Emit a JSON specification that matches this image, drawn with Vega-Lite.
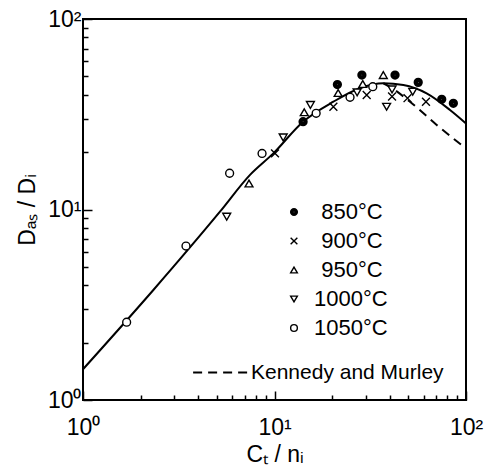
{
  "$schema": "https://vega.github.io/schema/vega-lite/v6.json",
  "width": 383,
  "height": 381,
  "autosize": {"type": "none"},
  "padding": {"left": 83, "top": 19, "right": 22, "bottom": 73},
  "background": "white",
  "config": {
    "view": {"stroke": "black", "strokeWidth": 2},
    "font": "Liberation Sans",
    "axis": {"labelColor": "black", "titleColor": "black", "tickColor": "black"}
  },
  "datasets": {
    "solid": [
      {"ct": 1, "d": 1.45}, {"ct": 2.33, "d": 3.78}, {"ct": 5.19, "d": 9.74},
      {"ct": 7.45, "d": 15.2}, {"ct": 9.86, "d": 19.7}, {"ct": 14.1, "d": 28.9},
      {"ct": 20.3, "d": 36.8}, {"ct": 27.9, "d": 43.3}, {"ct": 37.0, "d": 46.0},
      {"ct": 47.1, "d": 45.0}, {"ct": 62.3, "d": 40.7}, {"ct": 82.5, "d": 33.3},
      {"ct": 100, "d": 28.3}
    ],
    "dashed": [
      {"ct": 37.0, "d": 46.0, "curve": "Kennedy and Murley"},
      {"ct": 40.1, "d": 44.0, "curve": "Kennedy and Murley"},
      {"ct": 51.0, "d": 36.8, "curve": "Kennedy and Murley"},
      {"ct": 70.3, "d": 27.8, "curve": "Kennedy and Murley"},
      {"ct": 100, "d": 20.9, "curve": "Kennedy and Murley"}
    ],
    "points": [
      {"ct": 14.1, "d": 28.9, "T": "850°C"},
      {"ct": 21.3, "d": 45.3, "T": "850°C"},
      {"ct": 28.6, "d": 50.8, "T": "850°C"},
      {"ct": 42.6, "d": 50.8, "T": "850°C"},
      {"ct": 56.3, "d": 46.5, "T": "850°C"},
      {"ct": 74.7, "d": 37.9, "T": "850°C"},
      {"ct": 85.9, "d": 36.1, "T": "850°C"},
      {"ct": 10.06, "d": 19.7, "T": "900°C"},
      {"ct": 20.3, "d": 34.6, "T": "900°C"},
      {"ct": 30.3, "d": 39.9, "T": "900°C"},
      {"ct": 41.1, "d": 39.2, "T": "900°C"},
      {"ct": 49.5, "d": 38.4, "T": "900°C"},
      {"ct": 61.8, "d": 36.8, "T": "900°C"},
      {"ct": 7.36, "d": 13.7, "T": "950°C"},
      {"ct": 14.3, "d": 32.4, "T": "950°C"},
      {"ct": 21.5, "d": 40.9, "T": "950°C"},
      {"ct": 28.9, "d": 45.6, "T": "950°C"},
      {"ct": 37.0, "d": 50.8, "T": "950°C"},
      {"ct": 5.63, "d": 9.17, "T": "1000°C"},
      {"ct": 11.1, "d": 23.9, "T": "1000°C"},
      {"ct": 15.4, "d": 35.4, "T": "1000°C"},
      {"ct": 27.0, "d": 41.2, "T": "1000°C"},
      {"ct": 38.5, "d": 34.6, "T": "1000°C"},
      {"ct": 41.1, "d": 42.7, "T": "1000°C"},
      {"ct": 52.7, "d": 41.5, "T": "1000°C"},
      {"ct": 1.69, "d": 2.56, "T": "1050°C"},
      {"ct": 3.45, "d": 6.43, "T": "1050°C"},
      {"ct": 5.83, "d": 15.5, "T": "1050°C"},
      {"ct": 8.61, "d": 19.7, "T": "1050°C"},
      {"ct": 16.5, "d": 32.0, "T": "1050°C"},
      {"ct": 24.8, "d": 38.8, "T": "1050°C"},
      {"ct": 32.6, "d": 44.1, "T": "1050°C"}
    ]
  },
  "encoding": {
    "x": {
      "field": "ct", "type": "quantitative",
      "scale": {"type": "log", "domain": [1, 100]},
      "axis": {
        "values": [1,2,3,4,5,6,7,8,9,10,20,30,40,50,60,70,80,90,100],
        "labelExpr": "datum.value == 1 ? '10⁰' : datum.value == 10 ? '10¹' : datum.value == 100 ? '10²' : ''",
        "domain": false, "grid": false,
        "tickWidth": 1.5,
        "tickSize": {"condition": {"test": "datum.value == 1 || datum.value == 10 || datum.value == 100", "value": -9}, "value": -5},
        "labelFontSize": 23, "labelPadding": 25,
        "labelFlush": false, "labelOverlap": false, "labelBound": false,
        "title": "Cₜ / nᵢ", "titleFontSize": 23, "titleFontWeight": "normal", "titlePadding": 0
      }
    },
    "y": {
      "field": "d", "type": "quantitative",
      "scale": {"type": "log", "domain": [1, 100]},
      "axis": {
        "values": [1,2,3,4,5,6,7,8,9,10,20,30,40,50,60,70,80,90,100],
        "labelExpr": "datum.value == 1 ? '10⁰' : datum.value == 10 ? '10¹' : datum.value == 100 ? '10²' : ''",
        "domain": false, "grid": false,
        "tickWidth": 1.5,
        "tickSize": {"condition": {"test": "datum.value == 1 || datum.value == 10 || datum.value == 100", "value": -9}, "value": -5},
        "labelFontSize": 23, "labelPadding": 11,
        "labelFlush": false, "labelOverlap": false, "labelBound": false,
        "title": "Dₐₛ / Dᵢ", "titleFontSize": 23, "titleFontWeight": "normal", "titlePadding": 8
      }
    }
  },
  "layer": [
    {
      "data": {"name": "solid"},
      "mark": {"type": "line", "color": "black", "strokeWidth": 2, "interpolate": "monotone"}
    },
    {
      "data": {"name": "dashed"},
      "mark": {"type": "line", "color": "black", "strokeWidth": 2, "interpolate": "monotone"},
      "encoding": {
        "strokeDash": {
          "field": "curve", "type": "nominal",
          "scale": {"range": [[9, 6]]},
          "legend": {
            "orient": "none", "legendX": 109, "legendY": 325, "title": null,
            "symbolSize": 3000, "symbolStrokeWidth": 2,
            "labelFontSize": 21, "labelColor": "black", "labelOffset": 2, "labelLimit": 400, "padding": 0
          }
        }
      }
    },
    {
      "data": {"name": "points"},
      "mark": {"type": "point", "filled": false, "fill": "white", "stroke": "black", "strokeWidth": 1.4, "size": 62, "opacity": 1},
      "encoding": {
        "shape": {
          "field": "T", "type": "nominal",
          "scale": {
            "domain": ["850°C","900°C","950°C","1000°C","1050°C"],
            "range": [
              "M1,0A1,1 0 1,1 -1,0A1,1 0 1,1 1,0ZM0.68,0A0.68,0.68 0 1,1 -0.68,0A0.68,0.68 0 1,1 0.68,0ZM0.38,0A0.38,0.38 0 1,1 -0.38,0A0.38,0.38 0 1,1 0.38,0ZM0.1,0A0.1,0.1 0 1,1 -0.1,0A0.1,0.1 0 1,1 0.1,0Z",
              "M-1,-1L1,1M-1,1L1,-1",
              "triangle-up",
              "triangle-down",
              "circle"
            ]
          },
          "legend": {
            "orient": "none", "legendX": 200, "legendY": 182, "title": null,
            "symbolSize": 45, "symbolStrokeWidth": 1.4,
            "labelFontSize": 22, "labelColor": "black", "labelOffset": 9, "rowPadding": 7, "padding": 0,
            "labelExpr": "datum.label == '1000°C' || datum.label == '1050°C' ? datum.label : '\u200b\u2004' + datum.label"
          }
        }
      }
    }
  ]
}
